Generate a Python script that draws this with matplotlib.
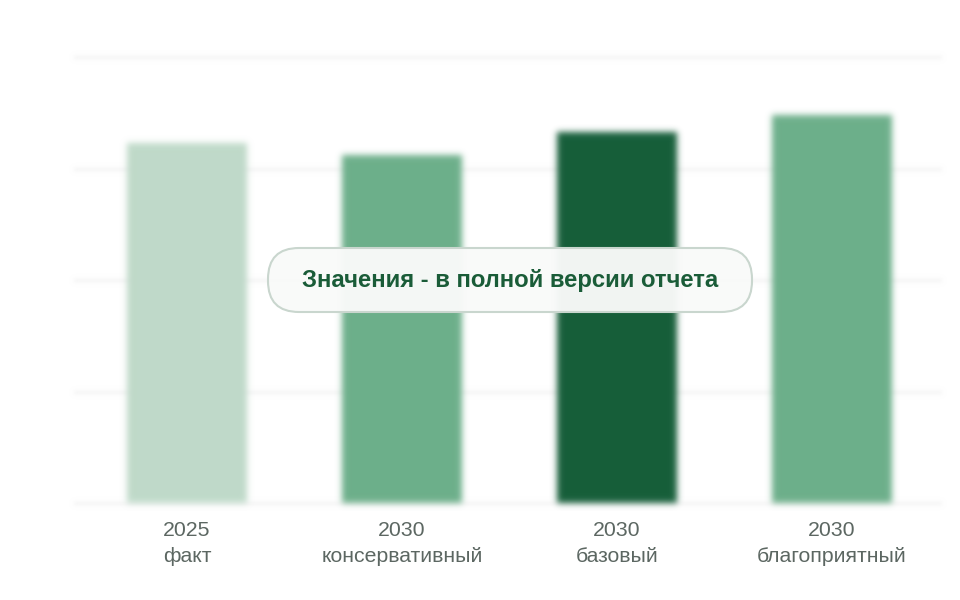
import numpy as np
import matplotlib
matplotlib.use("Agg")
import matplotlib.pyplot as plt
from matplotlib.patches import FancyBboxPatch
from matplotlib.transforms import Affine2D

categories = ["2025\nфакт", "2030\nконсервативный", "2030\nбазовый", "2030\nблагоприятный"]
values = [3.23, 3.12, 3.33, 3.48]
bar_colors = ["#bfdac9", "#6daf8a", "#165e3a", "#6daf8a"]
grid_levels = [0, 1, 2, 3, 4]
overlay_text = "Значения - в полной версии отчета"


def make_blur(sigma_px):
    def _filter(im, dpi):
        s = sigma_px
        pad = int(3 * s) + 2
        padded = np.pad(im, [(pad, pad), (pad, pad), (0, 0)], "constant")
        r = int(3 * s) + 1
        xk = np.arange(-r, r + 1)
        k = np.exp(-0.5 * (xk / s) ** 2)
        k /= k.sum()
        a = padded[:, :, 3:4]
        pre = np.concatenate([padded[:, :, :3] * a, a], axis=2)

        def conv(arr, axis):
            return np.apply_along_axis(lambda m: np.convolve(m, k, mode="same"), axis, arr)

        out = conv(conv(pre, 0), 1)
        alpha = out[:, :, 3:4]
        rgb = np.where(alpha > 1e-6, out[:, :, :3] / np.maximum(alpha, 1e-6), 0)
        res = np.concatenate([np.clip(rgb, 0, 1), np.clip(alpha, 0, 1)], axis=2)
        return res, -pad, -pad
    return _filter


plt.rcParams["font.family"] = ["Liberation Sans", "DejaVu Sans"]

fig = plt.figure(figsize=(9.6, 6.0), dpi=100)
ax = fig.add_axes([79.5 / 960, 97 / 600, 860 / 960, 446 / 600])

x = np.arange(len(categories))
bars = ax.bar(x, values, width=0.558, color=bar_colors, zorder=2)
blur = make_blur(3.2)
for b in bars:
    b.set_clip_on(False)
    b.set_agg_filter(blur)

for g in grid_levels:
    ln = ax.axhline(g, xmin=-0.005, xmax=1.0, color="#f4f4f4", lw=2.5, zorder=1, clip_on=False)
    ln.set_agg_filter(make_blur(2.0))

ax.set_xlim(-0.5, len(categories) - 0.5)
ax.set_ylim(0, 4)
ax.set_yticks([])
ax.set_xticks(x)
ax.set_xticklabels(categories, fontsize=15.3, color="#5c6762", linespacing=1.45)
ax.tick_params(axis="x", length=0, pad=13)
for sp in ax.spines.values():
    sp.set_visible(False)

# pill-shaped overlay in display pixels (y measured from bottom)
x0, x1, y0, y1 = 268, 752, 288, 352
pill = FancyBboxPatch((x0, y0), (x1 - x0), (y1 - y0),
                      boxstyle="round,pad=0,rounding_size=31",
                      transform=Affine2D(), facecolor=(0.975, 0.98, 0.977, 0.97),
                      edgecolor="#c9d6ce", linewidth=1.5, zorder=10)
fig.patches.append(pill)

fig.text(510 / 960, 1 - 280 / 600, overlay_text, ha="center", va="center",
         fontsize=17.2, fontweight="bold", color="#1a5c38", zorder=11)

fig.savefig("out.png", dpi=100)
